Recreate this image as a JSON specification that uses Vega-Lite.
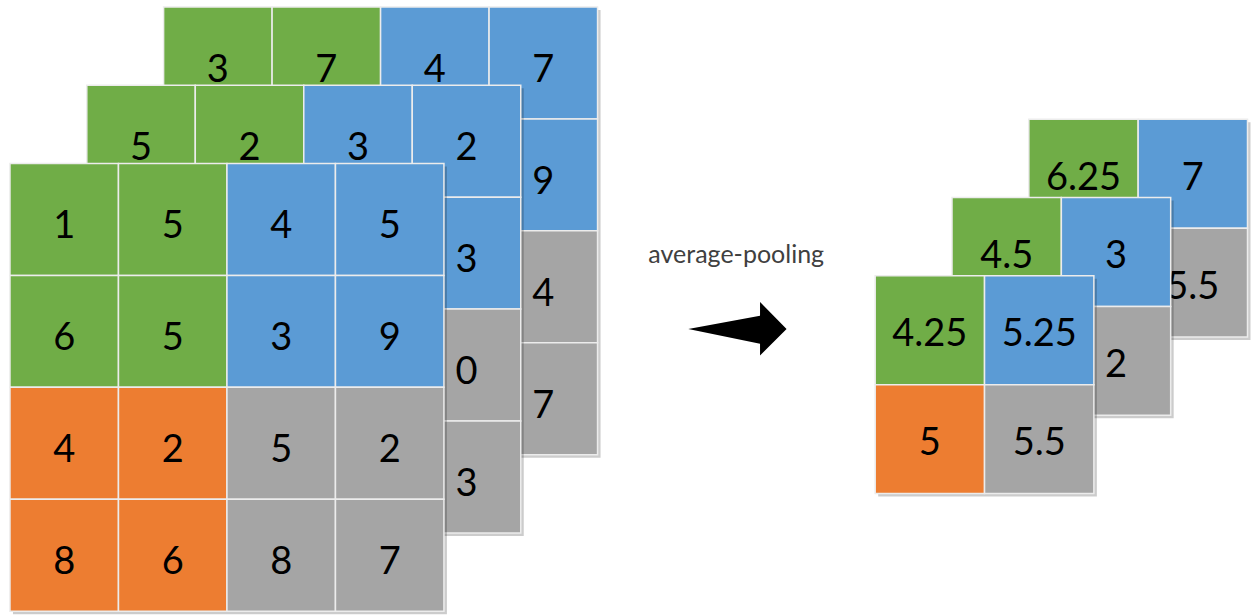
{
  "$schema": "https://vega.github.io/schema/vega-lite/v6.json",
  "width": 1251,
  "height": 615,
  "autosize": {"type": "fit", "contains": "padding"},
  "padding": 0,
  "background": "white",
  "config": {"view": {"stroke": null}, "axis": {"disable": true}},
  "datasets": {
    "cells": [
      {"panel": "input", "depth": 0, "row": 1, "col": 1, "value": 1, "region": "top-left"},
      {"panel": "input", "depth": 0, "row": 1, "col": 2, "value": 5, "region": "top-left"},
      {"panel": "input", "depth": 0, "row": 1, "col": 3, "value": 4, "region": "top-right"},
      {"panel": "input", "depth": 0, "row": 1, "col": 4, "value": 5, "region": "top-right"},
      {"panel": "input", "depth": 0, "row": 2, "col": 1, "value": 6, "region": "top-left"},
      {"panel": "input", "depth": 0, "row": 2, "col": 2, "value": 5, "region": "top-left"},
      {"panel": "input", "depth": 0, "row": 2, "col": 3, "value": 3, "region": "top-right"},
      {"panel": "input", "depth": 0, "row": 2, "col": 4, "value": 9, "region": "top-right"},
      {"panel": "input", "depth": 0, "row": 3, "col": 1, "value": 4, "region": "bottom-left"},
      {"panel": "input", "depth": 0, "row": 3, "col": 2, "value": 2, "region": "bottom-left"},
      {"panel": "input", "depth": 0, "row": 3, "col": 3, "value": 5, "region": "bottom-right"},
      {"panel": "input", "depth": 0, "row": 3, "col": 4, "value": 2, "region": "bottom-right"},
      {"panel": "input", "depth": 0, "row": 4, "col": 1, "value": 8, "region": "bottom-left"},
      {"panel": "input", "depth": 0, "row": 4, "col": 2, "value": 6, "region": "bottom-left"},
      {"panel": "input", "depth": 0, "row": 4, "col": 3, "value": 8, "region": "bottom-right"},
      {"panel": "input", "depth": 0, "row": 4, "col": 4, "value": 7, "region": "bottom-right"},

      {"panel": "input", "depth": 1, "row": 1, "col": 1, "value": 5, "region": "top-left"},
      {"panel": "input", "depth": 1, "row": 1, "col": 2, "value": 2, "region": "top-left"},
      {"panel": "input", "depth": 1, "row": 1, "col": 3, "value": 3, "region": "top-right"},
      {"panel": "input", "depth": 1, "row": 1, "col": 4, "value": 2, "region": "top-right"},
      {"panel": "input", "depth": 1, "row": 2, "col": 1, "value": null, "region": "top-left"},
      {"panel": "input", "depth": 1, "row": 2, "col": 2, "value": null, "region": "top-left"},
      {"panel": "input", "depth": 1, "row": 2, "col": 3, "value": null, "region": "top-right"},
      {"panel": "input", "depth": 1, "row": 2, "col": 4, "value": 3, "region": "top-right"},
      {"panel": "input", "depth": 1, "row": 3, "col": 1, "value": null, "region": "bottom-left"},
      {"panel": "input", "depth": 1, "row": 3, "col": 2, "value": null, "region": "bottom-left"},
      {"panel": "input", "depth": 1, "row": 3, "col": 3, "value": null, "region": "bottom-right"},
      {"panel": "input", "depth": 1, "row": 3, "col": 4, "value": 0, "region": "bottom-right"},
      {"panel": "input", "depth": 1, "row": 4, "col": 1, "value": null, "region": "bottom-left"},
      {"panel": "input", "depth": 1, "row": 4, "col": 2, "value": null, "region": "bottom-left"},
      {"panel": "input", "depth": 1, "row": 4, "col": 3, "value": null, "region": "bottom-right"},
      {"panel": "input", "depth": 1, "row": 4, "col": 4, "value": 3, "region": "bottom-right"},

      {"panel": "input", "depth": 2, "row": 1, "col": 1, "value": 3, "region": "top-left"},
      {"panel": "input", "depth": 2, "row": 1, "col": 2, "value": 7, "region": "top-left"},
      {"panel": "input", "depth": 2, "row": 1, "col": 3, "value": 4, "region": "top-right"},
      {"panel": "input", "depth": 2, "row": 1, "col": 4, "value": 7, "region": "top-right"},
      {"panel": "input", "depth": 2, "row": 2, "col": 1, "value": null, "region": "top-left"},
      {"panel": "input", "depth": 2, "row": 2, "col": 2, "value": null, "region": "top-left"},
      {"panel": "input", "depth": 2, "row": 2, "col": 3, "value": null, "region": "top-right"},
      {"panel": "input", "depth": 2, "row": 2, "col": 4, "value": 9, "region": "top-right"},
      {"panel": "input", "depth": 2, "row": 3, "col": 1, "value": null, "region": "bottom-left"},
      {"panel": "input", "depth": 2, "row": 3, "col": 2, "value": null, "region": "bottom-left"},
      {"panel": "input", "depth": 2, "row": 3, "col": 3, "value": null, "region": "bottom-right"},
      {"panel": "input", "depth": 2, "row": 3, "col": 4, "value": 4, "region": "bottom-right"},
      {"panel": "input", "depth": 2, "row": 4, "col": 1, "value": null, "region": "bottom-left"},
      {"panel": "input", "depth": 2, "row": 4, "col": 2, "value": null, "region": "bottom-left"},
      {"panel": "input", "depth": 2, "row": 4, "col": 3, "value": null, "region": "bottom-right"},
      {"panel": "input", "depth": 2, "row": 4, "col": 4, "value": 7, "region": "bottom-right"},

      {"panel": "output", "depth": 0, "row": 1, "col": 1, "value": 4.25, "region": "top-left"},
      {"panel": "output", "depth": 0, "row": 1, "col": 2, "value": 5.25, "region": "top-right"},
      {"panel": "output", "depth": 0, "row": 2, "col": 1, "value": 5, "region": "bottom-left"},
      {"panel": "output", "depth": 0, "row": 2, "col": 2, "value": 5.5, "region": "bottom-right"},
      {"panel": "output", "depth": 1, "row": 1, "col": 1, "value": 4.5, "region": "top-left"},
      {"panel": "output", "depth": 1, "row": 1, "col": 2, "value": 3, "region": "top-right"},
      {"panel": "output", "depth": 1, "row": 2, "col": 1, "value": null, "region": "bottom-left"},
      {"panel": "output", "depth": 1, "row": 2, "col": 2, "value": 2, "region": "bottom-right"},
      {"panel": "output", "depth": 2, "row": 1, "col": 1, "value": 6.25, "region": "top-left"},
      {"panel": "output", "depth": 2, "row": 1, "col": 2, "value": 7, "region": "top-right"},
      {"panel": "output", "depth": 2, "row": 2, "col": 1, "value": null, "region": "bottom-left"},
      {"panel": "output", "depth": 2, "row": 2, "col": 2, "value": 5.5, "region": "bottom-right"}
    ],
    "steps": [{"step": "average-pooling"}]
  },
  "data": {"name": "cells"},
  "transform": [
    {"calculate": "datum.panel == 'input' ? 108.75 : 109.6", "as": "cw"},
    {"calculate": "datum.panel == 'input' ? 112.3 : 109.2", "as": "ch"},
    {"calculate": "(datum.panel == 'input' ? 10 : 877.3) + datum.depth * 77 + (datum.col - 1) * datum.cw", "as": "x0"},
    {"calculate": "datum.x0 + datum.cw", "as": "x1"},
    {"calculate": "(datum.panel == 'input' ? 164 : 276.7) - datum.depth * 78.5 + (datum.row - 1) * datum.ch", "as": "y0"},
    {"calculate": "datum.y0 + datum.ch", "as": "y1"},
    {"calculate": "datum.x0 + datum.cw / 2", "as": "tx"},
    {"calculate": "datum.y0 + datum.ch / 2 + (datum.panel == 'input' ? 8 : 5)", "as": "ty"}
  ],
  "layer": [
    {
      "transform": [
        {"filter": "datum.depth == 2"},
        {"aggregate": [
          {"op": "min", "field": "x0", "as": "gx0"},
          {"op": "max", "field": "x1", "as": "gx1"},
          {"op": "min", "field": "y0", "as": "gy0"},
          {"op": "max", "field": "y1", "as": "gy1"}
        ], "groupby": ["panel"]}
      ],
      "mark": {"type": "rect", "fill": "#000000", "opacity": 0.2, "xOffset": 3, "x2Offset": 3, "yOffset": 3, "y2Offset": 3},
      "encoding": {
        "x": {"field": "gx0", "type": "quantitative", "scale": {"domain": [0, 1251], "nice": false, "zero": false}},
        "x2": {"field": "gx1"},
        "y": {"field": "gy0", "type": "quantitative", "scale": {"domain": [0, 615], "reverse": true, "nice": false, "zero": false}},
        "y2": {"field": "gy1"}
      }
    },
    {
      "transform": [{"filter": "datum.depth == 2"}],
      "mark": {"type": "rect", "stroke": "#ececec", "strokeWidth": 1.5, "opacity": 1},
      "encoding": {
        "x": {"field": "x0", "type": "quantitative", "scale": {"domain": [0, 1251], "nice": false, "zero": false}},
        "x2": {"field": "x1"},
        "y": {"field": "y0", "type": "quantitative", "scale": {"domain": [0, 615], "reverse": true, "nice": false, "zero": false}},
        "y2": {"field": "y1"},
        "color": {"field": "region", "type": "nominal", "legend": null,
          "scale": {"domain": ["top-left", "top-right", "bottom-left", "bottom-right"], "range": ["#70AD47", "#5B9BD5", "#ED7D31", "#A5A5A5"]}}
      }
    },
    {
      "transform": [{"filter": "datum.depth == 2 && isValid(datum.value)"}],
      "mark": {"type": "text", "font": "Lato", "fontSize": 38, "align": "center", "baseline": "middle", "fill": "#000000"},
      "encoding": {
        "x": {"field": "tx", "type": "quantitative", "scale": {"domain": [0, 1251], "nice": false, "zero": false}},
        "y": {"field": "ty", "type": "quantitative", "scale": {"domain": [0, 615], "reverse": true, "nice": false, "zero": false}},
        "text": {"field": "value", "type": "nominal"}
      }
    },
    {
      "transform": [
        {"filter": "datum.depth == 1"},
        {"aggregate": [
          {"op": "min", "field": "x0", "as": "gx0"},
          {"op": "max", "field": "x1", "as": "gx1"},
          {"op": "min", "field": "y0", "as": "gy0"},
          {"op": "max", "field": "y1", "as": "gy1"}
        ], "groupby": ["panel"]}
      ],
      "mark": {"type": "rect", "fill": "#000000", "opacity": 0.2, "xOffset": 3, "x2Offset": 3, "yOffset": 3, "y2Offset": 3},
      "encoding": {
        "x": {"field": "gx0", "type": "quantitative", "scale": {"domain": [0, 1251], "nice": false, "zero": false}},
        "x2": {"field": "gx1"},
        "y": {"field": "gy0", "type": "quantitative", "scale": {"domain": [0, 615], "reverse": true, "nice": false, "zero": false}},
        "y2": {"field": "gy1"}
      }
    },
    {
      "transform": [{"filter": "datum.depth == 1"}],
      "mark": {"type": "rect", "stroke": "#ececec", "strokeWidth": 1.5, "opacity": 1},
      "encoding": {
        "x": {"field": "x0", "type": "quantitative", "scale": {"domain": [0, 1251], "nice": false, "zero": false}},
        "x2": {"field": "x1"},
        "y": {"field": "y0", "type": "quantitative", "scale": {"domain": [0, 615], "reverse": true, "nice": false, "zero": false}},
        "y2": {"field": "y1"},
        "color": {"field": "region", "type": "nominal", "legend": null,
          "scale": {"domain": ["top-left", "top-right", "bottom-left", "bottom-right"], "range": ["#70AD47", "#5B9BD5", "#ED7D31", "#A5A5A5"]}}
      }
    },
    {
      "transform": [{"filter": "datum.depth == 1 && isValid(datum.value)"}],
      "mark": {"type": "text", "font": "Lato", "fontSize": 38, "align": "center", "baseline": "middle", "fill": "#000000"},
      "encoding": {
        "x": {"field": "tx", "type": "quantitative", "scale": {"domain": [0, 1251], "nice": false, "zero": false}},
        "y": {"field": "ty", "type": "quantitative", "scale": {"domain": [0, 615], "reverse": true, "nice": false, "zero": false}},
        "text": {"field": "value", "type": "nominal"}
      }
    },
    {
      "transform": [
        {"filter": "datum.depth == 0"},
        {"aggregate": [
          {"op": "min", "field": "x0", "as": "gx0"},
          {"op": "max", "field": "x1", "as": "gx1"},
          {"op": "min", "field": "y0", "as": "gy0"},
          {"op": "max", "field": "y1", "as": "gy1"}
        ], "groupby": ["panel"]}
      ],
      "mark": {"type": "rect", "fill": "#000000", "opacity": 0.2, "xOffset": 3, "x2Offset": 3, "yOffset": 3, "y2Offset": 3},
      "encoding": {
        "x": {"field": "gx0", "type": "quantitative", "scale": {"domain": [0, 1251], "nice": false, "zero": false}},
        "x2": {"field": "gx1"},
        "y": {"field": "gy0", "type": "quantitative", "scale": {"domain": [0, 615], "reverse": true, "nice": false, "zero": false}},
        "y2": {"field": "gy1"}
      }
    },
    {
      "transform": [{"filter": "datum.depth == 0"}],
      "mark": {"type": "rect", "stroke": "#ececec", "strokeWidth": 1.5, "opacity": 1},
      "encoding": {
        "x": {"field": "x0", "type": "quantitative", "scale": {"domain": [0, 1251], "nice": false, "zero": false}},
        "x2": {"field": "x1"},
        "y": {"field": "y0", "type": "quantitative", "scale": {"domain": [0, 615], "reverse": true, "nice": false, "zero": false}},
        "y2": {"field": "y1"},
        "color": {"field": "region", "type": "nominal", "legend": null,
          "scale": {"domain": ["top-left", "top-right", "bottom-left", "bottom-right"], "range": ["#70AD47", "#5B9BD5", "#ED7D31", "#A5A5A5"]}}
      }
    },
    {
      "transform": [{"filter": "datum.depth == 0 && isValid(datum.value)"}],
      "mark": {"type": "text", "font": "Lato", "fontSize": 38, "align": "center", "baseline": "middle", "fill": "#000000"},
      "encoding": {
        "x": {"field": "tx", "type": "quantitative", "scale": {"domain": [0, 1251], "nice": false, "zero": false}},
        "y": {"field": "ty", "type": "quantitative", "scale": {"domain": [0, 615], "reverse": true, "nice": false, "zero": false}},
        "text": {"field": "value", "type": "nominal"}
      }
    },
    {
      "data": {"name": "steps"},
      "mark": {"type": "point", "shape": "M -1 0 L 0.46 -0.27 L 0.46 -0.55 L 1 0 L 0.46 0.54 L 0.46 0.3 Z", "size": 9663, "filled": true, "fill": "#000000", "opacity": 1, "strokeWidth": 0},
      "encoding": {
        "x": {"datum": 739.2, "type": "quantitative", "scale": {"domain": [0, 1251], "nice": false, "zero": false}},
        "y": {"datum": 330, "type": "quantitative", "scale": {"domain": [0, 615], "reverse": true, "nice": false, "zero": false}}
      }
    },
    {
      "data": {"name": "steps"},
      "mark": {"type": "text", "font": "Lato", "fontSize": 25, "align": "center", "baseline": "alphabetic", "fill": "#404040"},
      "encoding": {
        "x": {"datum": 738, "type": "quantitative", "scale": {"domain": [0, 1251], "nice": false, "zero": false}},
        "y": {"datum": 263.5, "type": "quantitative", "scale": {"domain": [0, 615], "reverse": true, "nice": false, "zero": false}},
        "text": {"field": "step", "type": "nominal"}
      }
    }
  ]
}
